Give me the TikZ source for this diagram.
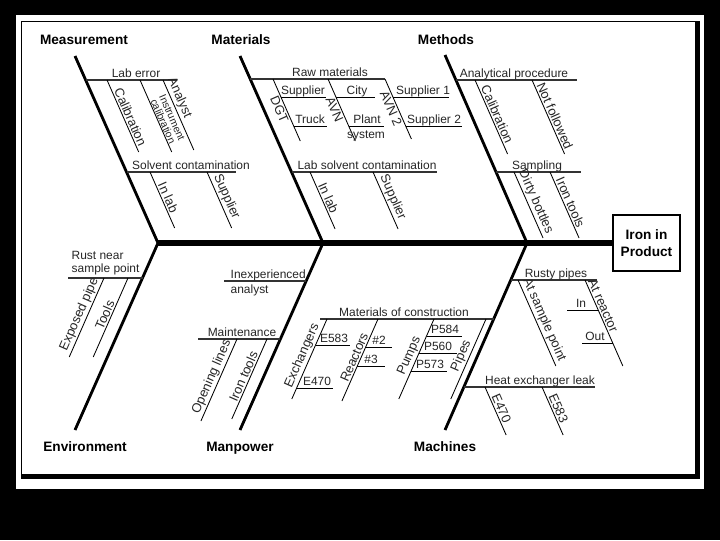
\documentclass[tikz,border=0pt]{standalone}
\usepackage{fontspec}
\setmainfont{Liberation Sans}
\usetikzlibrary{positioning,calc}
\tikzset{
  spine/.style={line width=3.6pt},
  bone/.style={line width=2pt},
  cause/.style={line width=1.2pt,draw=black!80},
  twig/.style={line width=0.6pt},
  cat/.style={font=\fontsize{9.7}{11}\selectfont\bfseries,inner sep=0pt,anchor=base},
  lbl/.style={font=\fontsize{8.5}{9.6}\selectfont,inner sep=1pt,text=black!85,align=center},
  slbl/.style={lbl,font=\fontsize{9.2}{9.6}\selectfont},
  on/.style={lbl,anchor=base},
  head/.style={draw,line width=1pt,minimum width=1.675cm,minimum height=1.4cm,align=center,
    font=\fontsize{9.7}{12}\selectfont\bfseries},
}

\begin{document}
\begin{tikzpicture}[x=0.025cm,y=-0.025cm]
  % page and frame
  \fill[black] (0,0) rectangle (720,540);
  \fill[white] (16,15) rectangle (704,489);
  \draw[line width=0.7pt] (21,21) rectangle (695,474);
  \draw[line width=2.5pt] (21,477) -- (698,477) -- (698,21);

  % head and spine
  \node[head] (eff) at (646.5,243) {Iron in\\Product};
  \coordinate (j0) at (158,243);
  \coordinate (j1) at (323,243);
  \coordinate (j2) at (527,243);
  \draw[spine] (j0) -- (eff);

  % main bones
  \coordinate (t0) at (75,56);   \coordinate (b0) at (75,430);
  \coordinate (t1) at (240,56);  \coordinate (b1) at (240,430);
  \coordinate (t2) at (445,55);  \coordinate (b2) at (445,430);
  \foreach \n in {0,1,2}
    \draw[bone] (t\n) -- (j\n) -- (b\n);
  \node[cat] (measure) at (84,44) {Measurement};
  \node[cat] (mater) at (241,44) {Materials};
  \node[cat] (meth) at (446,44) {Methods};
  \node[cat] (envir) at (85,451) {Environment};
  \node[cat] (manp) at (240,451) {Manpower};
  \node[cat] (mach) at (445,451) {Machines};

  % causes
  \draw[cause] (85.7,80) -- (177,80);     \node[on] (labe) at (136,77) {Lab error};
  \draw[cause] (126.5,172) -- (236,172);  \node[on] (solv) at (191,169) {Solvent contamination};
  \draw[cause] (250.2,79) -- (385,79);    \node[on] (rawm) at (330,76) {Raw materials};
  \draw[cause] (291.5,172) -- (437,172);  \node[on] (lsolv) at (367,169) {Lab solvent contamination};
  \draw[cause] (455.9,80) -- (577,80);    \node[on] (anal) at (514,77) {Analytical procedure};
  \draw[cause] (496,172) -- (581,172);    \node[on] (samp) at (537,169) {Sampling};
  \draw[cause] (68,278) -- (142.5,278);
  \node[lbl,align=left,anchor=south west] (rust) at (70,277) {Rust near\\sample point};
  \draw[cause] (224,281) -- (306.1,281);
  \node[on,anchor=base west] (inex) at (229,278) {Inexperienced};
  \node[on,anchor=base west] (inexb) at (229,293) {analyst};
  \draw[cause] (198,339) -- (280.4,339);  \node[on] (maint) at (242,336) {Maintenance};
  \draw[cause] (320,319) -- (493.7,319);  \node[on] (moc) at (404,316) {Materials of construction};
  \draw[cause] (510.8,280) -- (597,280);  \node[on] (rpipe) at (556,277) {Rusty pipes};
  \draw[cause] (463.9,387) -- (595,387);  \node[on] (hexl) at (540,384) {Heat exchanger leak};

  % twigs falling to the right
  \foreach \x/\y/\l/\p/\t in {107/80/72/0.55/Calibration,
      163/80/70/0.3/Analyst, 150/172/56/0.5/In lab, 207/172/56/0.5/Supplier,
      310/172/57/0.5/In lab, 373/172/57/0.5/Supplier,
      475/80/74/0.5/Calibration, 532/80/74/0.52/Not followed,
      514/172/66/0.5/Dirty bottles, 550/172/66/0.5/Iron tools,
      518/280/86/0.5/At sample point, 585/280/86/0.33/At reactor,
      485/387/48/0.5/E470, 542/387/48/0.5/E583}
    \draw[twig] (\x,\y) -- ++(0.44*\l,\l) node[slbl,pos=\p,sloped,above] (r\x\y) {\t};
  \draw[twig] (140,80) -- ++(31.7,72)
    node[lbl,font=\fontsize{7.4}{7}\selectfont,pos=0.6,sloped,above,inner sep=0.3pt] (instr)
    {Instrument\\calibration};

  % twigs falling to the left
  \foreach \x/\y/\l/\t in {104/278/79/Exposed pipe, 128/278/79/Tools,
      237/339/82/Opening lines, 267/339/80/Iron tools,
      327/319/80/Exchangers, 378/319/82/Reactors,
      434/319/80/Pumps, 486/319/80/Pipes}
    \draw[twig] (\x,\y) -- ++(-0.44*\l,\l) node[slbl,midway,sloped,above] (l\x\y) {\t};

  % raw materials detail
  \foreach \x/\l/\t in {273/62/DGT, 328/62/AVN, 385/60/AVN 2}
    \draw[twig] (\x,79) -- ++(0.44*\l,\l) node[slbl,pos=0.45,sloped,below] (w\x) {\t};
  \draw[twig] (281,97) -- (326,97);   \node[on] (sup) at (303,94) {Supplier};
  \draw[twig] (294,126) -- (327,126); \node[on] (truck) at (310,123) {Truck};
  \draw[twig] (336,97) -- (375,97);   \node[on] (city) at (357,94) {City};
  \draw[twig] (349,126) -- (384,126); \node[on] (plant) at (367,123) {Plant};
  \node[on] (syst) at (366,138) {system};
  \draw[twig] (393,97) -- (449,97);   \node[on] (supa) at (423,94) {Supplier 1};
  \draw[twig] (406,126) -- (462,126); \node[on] (supb) at (434,123) {Supplier 2};

  % materials of construction detail
  \draw[twig] (315.6,345) -- (350,345); \node[on] (ea) at (334,342) {E583};
  \draw[twig] (296.6,388) -- (333,388); \node[on] (eb) at (317,385) {E470};
  \draw[twig] (365.7,347) -- (392,347); \node[on] (ra) at (379,344) {\#2};
  \draw[twig] (357.4,366) -- (385,366); \node[on] (rb) at (371,363) {\#3};
  \draw[twig] (426.5,336) -- (462,336); \node[on] (pa) at (445,333) {P584};
  \draw[twig] (419,353) -- (457,353);   \node[on] (pb) at (438,350) {P560};
  \draw[twig] (411,371) -- (447,371);   \node[on] (pc) at (430,368) {P573};

  % at reactor detail
  \draw[twig] (567,310) -- (598.2,310); \node[on] (rin) at (581,307) {In};
  \draw[twig] (582,343) -- (612.7,343); \node[on] (rout) at (595,340) {Out};
\end{tikzpicture}
\end{document}
